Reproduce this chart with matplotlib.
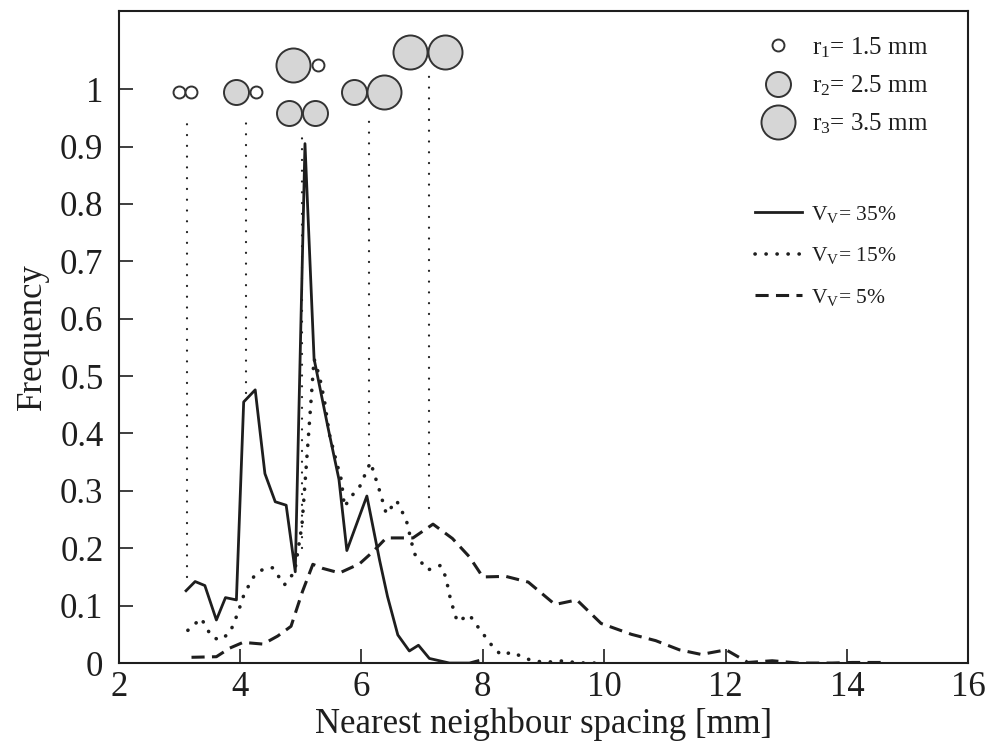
import matplotlib

matplotlib.use("Agg")
import matplotlib.pyplot as plt
from matplotlib.lines import Line2D

plt.rcParams["font.family"] = ["Liberation Serif", "DejaVu Serif"]
plt.rcParams["mathtext.fontset"] = "custom"
plt.rcParams["mathtext.rm"] = "Liberation Serif"
plt.rcParams["mathtext.it"] = "Liberation Serif:italic"

# V_v = 35 %
solid_x = [3.11, 3.26, 3.42, 3.61, 3.76, 3.94, 4.06, 4.25, 4.41, 4.58, 4.76, 4.91,
           5.07, 5.22, 5.45, 5.63, 5.76, 6.09, 6.30, 6.43, 6.60, 6.79, 6.94, 7.12,
           7.45, 7.78, 7.92]
solid_y = [0.126, 0.142, 0.135, 0.075, 0.114, 0.110, 0.455, 0.476, 0.330, 0.281,
           0.275, 0.159, 0.905, 0.530, 0.410, 0.320, 0.196, 0.291, 0.179, 0.116,
           0.049, 0.021, 0.031, 0.008, 0.0, 0.0, 0.004]

# V_v = 15 %
dotted_x = [3.14, 3.36, 3.53, 3.66, 3.83, 3.96, 4.07, 4.24, 4.40, 4.54, 4.73, 4.90,
            5.02, 5.22, 5.31, 5.39, 5.47, 5.58, 5.67, 5.72, 5.83, 5.97, 6.15, 6.30,
            6.41, 6.58, 6.74, 6.87, 7.09, 7.30, 7.39, 7.47, 7.58, 7.78, 7.94, 8.14,
            8.30, 8.49, 8.66, 8.82, 8.98, 9.15, 9.34, 9.51, 9.69, 9.86]
dotted_y = [0.057, 0.078, 0.046, 0.040, 0.052, 0.086, 0.121, 0.153, 0.165, 0.166,
            0.136, 0.159, 0.240, 0.530, 0.499, 0.458, 0.400, 0.354, 0.319, 0.272,
            0.290, 0.307, 0.350, 0.300, 0.260, 0.283, 0.249, 0.191, 0.162, 0.170,
            0.150, 0.110, 0.072, 0.084, 0.060, 0.032, 0.014, 0.019, 0.010, 0.004,
            0.002, 0.002, 0.004, 0.001, 0.0, 0.0]

# V_v = 5 %
dashed_x = [3.20, 3.61, 3.83, 4.05, 4.38, 4.62, 4.84, 5.03, 5.20, 5.36, 5.64, 5.97,
            6.19, 6.41, 6.62, 6.85, 7.18, 7.50, 7.78, 8.00, 8.38, 8.75, 9.19, 9.55,
            9.95, 10.45, 10.85, 11.24, 11.60, 12.01, 12.37, 12.77, 13.20, 13.76,
            14.09, 14.61]
dashed_y = [0.010, 0.011, 0.026, 0.036, 0.033, 0.047, 0.064, 0.125, 0.172, 0.165,
            0.157, 0.173, 0.194, 0.218, 0.218, 0.218, 0.242, 0.217, 0.185, 0.150,
            0.151, 0.141, 0.102, 0.110, 0.069, 0.050, 0.039, 0.023, 0.015, 0.023,
            0.001, 0.004, 0.0, 0.0, 0.001, 0.001]

# vertical guide lines at the contact spacings
guide_x = [3.13, 4.10, 5.02, 6.12, 7.12]
guide_top = [0.955, 0.955, 0.93, 0.955, 1.033]
guide_bottom = [0.15, 0.47, 0.20, 0.36, 0.27]

# touching particle pairs drawn above the guides
pair_x = [3.00, 3.20, 3.94, 4.27, 4.88, 5.28, 4.81, 5.24, 5.87, 6.38, 6.80, 7.37]
pair_y = [0.995, 0.995, 0.995, 0.995, 1.042, 1.042, 0.958, 0.958, 0.995, 0.995,
          1.065, 1.065]
pair_r = [1.5, 1.5, 2.5, 1.5, 3.5, 1.5, 2.5, 2.5, 2.5, 3.5, 3.5, 3.5]

radii = [1.5, 2.5, 3.5]
radius_labels = [r"r$_\mathrm{1}$= 1.5 mm", r"r$_\mathrm{2}$= 2.5 mm",
                 r"r$_\mathrm{3}$= 3.5 mm"]
series_labels = [r"V$_\mathrm{V}$= 35%", r"V$_\mathrm{V}$= 15%", r"V$_\mathrm{V}$= 5%"]

ink = "#1e1e1e"
marker_pt = {1.5: 8.6, 2.5: 18.0, 3.5: 24.5}
fill = {1.5: "white", 2.5: "#d6d6d6", 3.5: "#d6d6d6"}

fig = plt.figure(figsize=(9.89, 7.47), dpi=100)
ax = fig.add_axes([0.120, 0.1124, 0.859, 0.8728])

solid_ls = "-"
dotted_ls = (0, (0.05, 3.0))
dashed_ls = (0, (4.3, 2.4))

ax.plot(solid_x, solid_y, color=ink, lw=2.0, ls=solid_ls)
ax.plot(dotted_x, dotted_y, color=ink, lw=2.6, ls=dotted_ls, dash_capstyle="round")
ax.plot(dashed_x, dashed_y, color=ink, lw=2.2, ls=dashed_ls)
ax.vlines(guide_x, guide_bottom, guide_top, colors=ink, lw=1.6,
          linestyles=[(0, (0.05, 4.8))], capstyle="round")

for x, y, r in zip(pair_x, pair_y, pair_r):
    ax.plot([x], [y], marker="o", ms=marker_pt[r], mfc=fill[r], mec="#333333",
            mew=1.4, ls="", clip_on=False, zorder=4)

ax.set_xlim(2, 16)
ax.set_ylim(0, 1.136)
ax.set_xticks([2, 4, 6, 8, 10, 12, 14, 16])
ax.set_yticks([0, 0.1, 0.2, 0.3, 0.4, 0.5, 0.6, 0.7, 0.8, 0.9, 1.0])
ax.set_yticklabels(["0", "0.1", "0.2", "0.3", "0.4", "0.5", "0.6", "0.7", "0.8",
                    "0.9", "1"])
ax.tick_params(direction="in", length=10, width=1.2, colors=ink, labelsize=25)
ax.tick_params(axis="y", pad=11)
ax.tick_params(axis="x", pad=6)
for s in ax.spines.values():
    s.set_linewidth(1.5)
    s.set_color(ink)

ax.set_xlabel("Nearest neighbour spacing [mm]", fontsize=25, color=ink, labelpad=2)
ax.set_ylabel("Frequency", fontsize=25, color=ink, labelpad=8)

circle_handles = [Line2D([], [], marker="o", ls="", ms=marker_pt[r], mfc=fill[r],
                         mec="#333333", mew=1.4) for r in radii]
leg1 = ax.legend(circle_handles, radius_labels, loc="upper left",
                 bbox_to_anchor=(0.769, 0.953), bbox_transform=fig.transFigure,
                 frameon=False, fontsize=18, handlelength=1.4, handletextpad=0.66,
                 labelspacing=0.55, borderpad=0, borderaxespad=0)
for t in leg1.get_texts():
    t.set_color(ink)
ax.add_artist(leg1)

line_handles = [Line2D([], [], color=ink, lw=2.0, ls=solid_ls),
                Line2D([], [], color=ink, lw=2.6, ls=dotted_ls, dash_capstyle="round"),
                Line2D([], [], color=ink, lw=2.2, ls=dashed_ls)]
leg2 = ax.legend(line_handles, series_labels, loc="upper left",
                 bbox_to_anchor=(0.763, 0.727), bbox_transform=fig.transFigure,
                 frameon=False, fontsize=15.5, handlelength=2.2, handletextpad=0.43,
                 labelspacing=0.95, borderpad=0, borderaxespad=0)
for t in leg2.get_texts():
    t.set_color(ink)

fig.savefig("out.png", dpi=100)
plt.close(fig)
